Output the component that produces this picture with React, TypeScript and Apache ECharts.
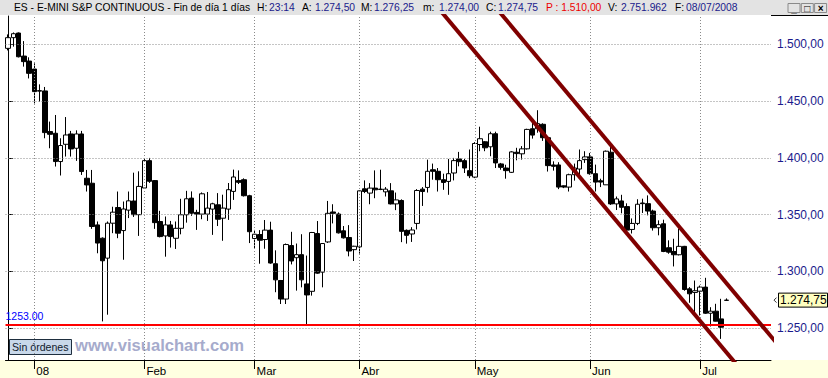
import React, { useEffect, useRef } from 'react';
import * as echarts from 'echarts';

// ---- DATA ----
const dates = [
  '2007-12-24','2007-12-26','2007-12-27','2007-12-28','2007-12-31',
  '2008-01-02','2008-01-03','2008-01-04','2008-01-07','2008-01-08','2008-01-09','2008-01-10','2008-01-11',
  '2008-01-14','2008-01-15','2008-01-16','2008-01-17','2008-01-18','2008-01-22','2008-01-23','2008-01-24',
  '2008-01-25','2008-01-28','2008-01-29','2008-01-30','2008-01-31',
  '2008-02-01','2008-02-04','2008-02-05','2008-02-06','2008-02-07','2008-02-08','2008-02-11','2008-02-12',
  '2008-02-13','2008-02-14','2008-02-15','2008-02-18','2008-02-19','2008-02-20','2008-02-21','2008-02-22',
  '2008-02-25','2008-02-26','2008-02-27','2008-02-28','2008-02-29',
  '2008-03-03','2008-03-04','2008-03-05','2008-03-06','2008-03-07','2008-03-10','2008-03-11','2008-03-12',
  '2008-03-13','2008-03-14','2008-03-17','2008-03-18','2008-03-19','2008-03-20','2008-03-24','2008-03-25',
  '2008-03-26','2008-03-27','2008-03-28','2008-03-31',
  '2008-04-01','2008-04-02','2008-04-03','2008-04-04','2008-04-07','2008-04-08','2008-04-09','2008-04-10',
  '2008-04-11','2008-04-14','2008-04-15','2008-04-16','2008-04-17','2008-04-18','2008-04-21','2008-04-22',
  '2008-04-23','2008-04-24','2008-04-25','2008-04-28','2008-04-29','2008-04-30',
  '2008-05-01','2008-05-02','2008-05-05','2008-05-06','2008-05-07','2008-05-08','2008-05-09','2008-05-12',
  '2008-05-13','2008-05-14','2008-05-15','2008-05-16','2008-05-19','2008-05-20','2008-05-21','2008-05-22',
  '2008-05-23','2008-05-26','2008-05-27','2008-05-28','2008-05-29','2008-05-30',
  '2008-06-02','2008-06-03','2008-06-04','2008-06-05','2008-06-06','2008-06-09','2008-06-10','2008-06-11',
  '2008-06-12','2008-06-13','2008-06-16','2008-06-17','2008-06-18','2008-06-19','2008-06-20','2008-06-23',
  '2008-06-24','2008-06-25','2008-06-26','2008-06-27','2008-06-30',
  '2008-07-01','2008-07-02','2008-07-03','2008-07-04','2008-07-07','2008-07-08',
];
const futureDates = ['2008-07-09','2008-07-10','2008-07-11','2008-07-14','2008-07-15','2008-07-16','2008-07-17','2008-07-18'];

const opens = [
  1496.5,1505.9,1510.0,1489.7,1485.3,
  1478.3,1458.8,1459.0,1423.2,1421.7,1396.8,1412.0,1421.1,1408.5,1421.1,1382.1,1377.7,1341.0,1329.3,1311.7,1342.5,1356.3,1336.0,1354.0,1362.0,1350.0,
  1373.5,1397.6,1380.0,1344.0,1331.3,1341.0,1329.2,1338.0,1349.9,1364.6,1352.0,1350.5,1350.5,1354.9,1358.7,1346.9,1354.9,1370.5,1380.0,1380.8,1366.7,
  1329.0,1332.5,1328.1,1336.4,1306.8,1292.0,1275.7,1322.8,1312.1,1314.8,1289.0,1282.5,1333.4,1299.4,1326.0,1352.4,1350.6,1335.8,1329.9,1319.2,
  1321.6,1372.8,1369.0,1373.4,1372.2,1370.1,1371.0,1359.5,1362.5,1336.2,1333.0,1342.3,1372.5,1374.0,1389.6,1388.2,1380.8,1379.3,1386.7,1399.1,1397.6,1388.8,
  1383.1,1411.8,1414.2,1409.8,1421.3,1394.7,1391.1,1387.3,1405.0,1403.6,1408.0,1425.7,1425.7,1429.6,1417.8,1393.8,1393.8,1375.4,1374.3,1385.2,1390.2,1398.5,
  1400.9,1386.1,1379.9,1376.3,1405.0,1359.5,1362.1,1357.1,1337.0,1342.3,1360.3,1359.7,1353.2,1338.5,1342.0,1320.9,1317.6,1314.7,1322.1,1284.7,1281.5,
  1282.6,1286.2,1263.2,1265.0,1258.2,1274.5,
];
const highs = [
  1508.8,1510.5,1510.5,1502.9,1488.6,
  1483.3,1464.8,1462.5,1432.0,1437.8,1417.3,1436.0,1423.8,1424.3,1423.8,1389.4,1389.4,1344.0,1330.0,1344.0,1357.0,1370.4,1361.6,1370.4,1387.0,1388.2,
  1399.0,1400.0,1380.5,1353.4,1348.4,1344.5,1344.0,1364.0,1371.0,1370.5,1354.3,1369.6,1370.0,1360.5,1369.0,1367.6,1377.9,1389.7,1389.0,1382.0,1367.5,
  1336.6,1336.4,1345.3,1343.8,1318.6,1292.5,1324.6,1334.9,1324.6,1332.8,1314.0,1334.8,1344.4,1325.0,1362.1,1359.2,1352.0,1340.0,1340.8,1322.6,
  1371.3,1380.2,1377.8,1389.0,1389.6,1374.3,1377.8,1369.5,1363.5,1337.0,1339.0,1372.5,1374.3,1398.5,1395.0,1391.1,1386.1,1399.1,1400.0,1405.3,1399.1,1407.4,
  1413.9,1427.5,1414.8,1423.1,1423.1,1395.6,1394.0,1405.9,1408.9,1410.4,1425.7,1431.0,1442.0,1430.5,1418.5,1397.0,1396.2,1375.8,1386.1,1395.0,1407.4,1405.9,
  1404.4,1394.1,1381.7,1406.5,1410.4,1366.0,1367.5,1360.0,1346.7,1363.6,1364.1,1367.0,1354.4,1345.0,1345.6,1327.4,1328.8,1337.6,1322.5,1286.2,1292.0,
  1287.6,1294.4,1268.5,1271.5,1275.9,1276.25,
];
const lows = [
  1494.7,1498.0,1488.5,1480.4,1470.0,
  1448.0,1449.6,1417.3,1408.5,1392.4,1384.5,1401.2,1401.2,1397.4,1385.0,1370.4,1337.5,1316.0,1256.0,1261.9,1333.7,1329.3,1310.3,1347.0,1348.0,1331.3,
  1373.0,1378.0,1337.5,1330.0,1313.0,1321.0,1319.8,1332.7,1343.0,1349.0,1336.6,1346.0,1344.5,1332.2,1340.0,1327.0,1345.4,1363.0,1377.0,1366.0,1325.0,
  1320.4,1306.8,1320.0,1306.8,1281.7,1271.3,1271.3,1306.2,1283.1,1286.0,1252.7,1278.7,1297.9,1286.0,1325.1,1342.3,1333.4,1329.0,1313.3,1309.2,
  1315.7,1369.0,1359.2,1364.5,1371.6,1366.0,1359.0,1354.0,1325.8,1324.5,1326.0,1337.0,1357.7,1369.5,1380.8,1370.4,1371.9,1367.5,1380.2,1392.6,1386.7,1382.2,
  1382.2,1405.9,1405.9,1401.5,1391.1,1389.6,1381.7,1386.7,1397.9,1398.5,1407.4,1417.0,1422.2,1415.0,1388.0,1388.8,1372.5,1373.4,1370.4,1380.0,1385.2,1395.6,
  1385.2,1370.4,1374.3,1376.3,1358.6,1354.1,1351.2,1334.9,1333.4,1340.8,1351.5,1349.4,1336.0,1331.8,1317.0,1315.6,1304.4,1314.1,1283.0,1272.4,1261.2,
  1261.2,1262.6,1251.5,1256.0,1240.6,1274.0,
];
const closes = [
  1505.9,1509.4,1489.1,1484.8,1474.5,
  1458.4,1459.3,1422.3,1420.8,1396.8,1410.9,1420.2,1407.9,1421.1,1388.0,1376.2,1339.6,1325.0,1309.4,1342.5,1352.2,1333.7,1355.0,1362.2,1350.0,1374.9,
  1397.6,1379.4,1343.0,1330.7,1341.0,1330.7,1338.0,1349.9,1364.0,1351.3,1350.5,1368.4,1355.8,1359.6,1346.0,1355.8,1372.0,1383.2,1378.5,1366.7,1335.0,
  1332.8,1327.5,1336.4,1307.4,1292.6,1275.7,1323.7,1309.2,1314.8,1292.6,1279.3,1334.3,1298.5,1324.6,1351.2,1351.2,1334.0,1329.6,1318.0,1322.2,
  1371.0,1370.4,1373.4,1371.9,1372.5,1372.5,1359.5,1363.0,1335.3,1331.8,1336.5,1371.3,1370.4,1388.2,1388.2,1380.8,1378.4,1386.1,1397.6,1396.7,1391.1,1384.3,
  1412.7,1416.9,1408.9,1421.3,1395.6,1391.7,1388.8,1405.3,1403.8,1408.0,1425.1,1420.1,1430.2,1417.8,1393.2,1392.6,1374.3,1374.3,1385.2,1391.1,1397.6,1400.9,
  1386.1,1378.7,1378.7,1405.9,1359.5,1363.9,1356.5,1336.4,1342.3,1359.2,1359.7,1353.2,1338.5,1341.2,1317.6,1317.0,1314.7,1322.1,1284.1,1280.3,1283.0,
  1286.2,1263.2,1265.0,1256.2,1250.9,1274.75,
];

const yTicks = [1250, 1300, 1350, 1400, 1450, 1500];
const supportLevel = 1253;
// trend channel endpoints: [bar index, price]
const channelLower = [[80, 1543.3], [142, 1201.1]];
const channelUpper = [[90, 1549.1], [147, 1234.5]];
const monthNames = ['08', 'Feb', 'Mar', 'Abr', 'May', 'Jun', 'Jul', 'Ago', 'Sep', 'Oct', 'Nov', 'Dic'];

const headerLabels = [
  { text: 'ES - E-MINI S&P CONTINUOUS - Fin de día 1 días', x: 14, color: '#000000' },
  { text: 'H:', x: 257, color: '#000000' }, { text: '23:14', x: 269, color: '#1a1a8c' },
  { text: 'A:', x: 302, color: '#000000' }, { text: '1.274,50', x: 315, color: '#1a1a8c' },
  { text: 'M:', x: 361, color: '#000000' }, { text: '1.276,25', x: 374, color: '#1a1a8c' },
  { text: 'm:', x: 423, color: '#000000' }, { text: '1.274,00', x: 439, color: '#1a1a8c' },
  { text: 'C:', x: 486, color: '#000000' }, { text: '1.274,75', x: 498, color: '#1a1a8c' },
  { text: 'P : 1.510,00', x: 546, color: '#ee0000' },
  { text: 'V:', x: 608, color: '#000000' }, { text: '2.751.962', x: 621, color: '#1a1a8c' },
  { text: 'F:', x: 675, color: '#000000' }, { text: '08/07/2008', x: 686, color: '#1a1a8c' },
];

const FONT = '"Liberation Sans", Arial, sans-serif';

function fmtEs(v: number): string {
  const [i, d] = v.toFixed(2).split('.');
  return i.replace(/\B(?=(\d{3})+(?!\d))/g, '.') + ',' + d;
}

export default function App() {
  const ref = useRef<HTMLDivElement>(null);

  useEffect(() => {
    if (!ref.current) return;
    const chart = echarts.init(ref.current, undefined, { renderer: 'svg' });
    const allDates = [...dates, ...futureDates];
    const monthStarts: number[] = [];
    allDates.forEach((d, i) => {
      if (i > 0 && d.slice(5, 7) !== allDates[i - 1].slice(5, 7)) monthStarts.push(i);
    });
    const isMonthStart = (idx: number) => monthStarts.indexOf(idx) >= 0;
    const candleData = opens.map((o, i) => [o, closes[i], lows[i], highs[i]]);
    const dotted = { color: '#8a8a8a', width: 1, type: [1, 2] as any };

    chart.setOption({
      animation: false,
      backgroundColor: 'transparent',
      textStyle: { fontFamily: FONT },
      grid: { left: 5.5, right: 57, top: 16, bottom: 18 },
      xAxis: [
        {
          type: 'category',
          data: allDates,
          boundaryGap: true,
          axisLine: { show: true, lineStyle: { color: '#000', width: 1 } },
          axisTick: {
            show: true, interval: (i: number) => isMonthStart(i), alignWithLabel: true,
            length: 9, lineStyle: { color: '#000', width: 1 },
          },
          axisLabel: {
            interval: (i: number) => isMonthStart(i),
            formatter: (v: string) => monthNames[parseInt(v.slice(5, 7), 10) - 1],
            align: 'left', padding: [0, 0, 0, 2], margin: 5,
            color: '#000', fontSize: 11.5, fontFamily: FONT,
          },
          splitLine: { show: false },
        },
        { type: 'value', min: -0.5, max: allDates.length - 0.5, show: false },
      ],
      yAxis: {
        type: 'value', position: 'right', min: 1222, max: 1525, scale: true,
        axisLine: { show: true, lineStyle: { color: '#000', width: 1 } },
        axisTick: { show: true, customValues: yTicks, length: 5, lineStyle: { color: '#000' } },
        axisLabel: {
          customValues: yTicks, formatter: (v: number) => fmtEs(v),
          color: '#1a1a8c', fontSize: 12, margin: 6, fontFamily: FONT,
        },
        splitLine: { show: false },
      },
      series: [
        {
          name: 'grid', type: 'line', data: allDates.map(() => '-'), silent: true, z: 1,
          markLine: {
            silent: true, symbol: ['none', 'none'], label: { show: false }, lineStyle: dotted,
            data: [
              ...yTicks.map((v) => ({ yAxis: v })),
              ...monthStarts.map((i) => ({ xAxis: allDates[i] })),
            ],
          },
        },
        {
          name: 'ES', type: 'candlestick', data: candleData, barWidth: 5, z: 2,
          itemStyle: { color: '#ffffff', color0: '#000000', borderColor: '#000000', borderColor0: '#000000', borderWidth: 1 },
          markLine: {
            silent: true, symbol: ['none', 'none'],
            data: [{
              yAxis: supportLevel,
              lineStyle: { color: '#ff0000', width: 2, type: 'solid' },
              label: {
                show: true, formatter: supportLevel.toFixed(2), position: 'insideStartTop',
                color: '#0000ff', fontSize: 10.5, fontFamily: FONT, distance: [0, 3],
              },
            }],
          },
        },
        {
          name: 'canal inferior', type: 'line', xAxisIndex: 1, data: channelLower, symbol: 'none', clip: true,
          lineStyle: { color: '#800000', width: 4 }, silent: true, z: 5,
        },
        {
          name: 'canal superior', type: 'line', xAxisIndex: 1, data: channelUpper, symbol: 'none', clip: true,
          lineStyle: { color: '#800000', width: 4 }, silent: true, z: 5,
        },
      ],
    });

    const lastClose = closes[closes.length - 1];
    const py = chart.convertToPixel({ yAxisIndex: 0 }, lastClose) as number;

    const elements: any[] = [];
    headerLabels.forEach((h, k) => {
      elements.push({
        type: 'text', id: 'h' + k, x: h.x, y: 7.5,
        style: { text: h.text, fill: h.color, font: `10.3px ${FONT}`, textVerticalAlign: 'middle', verticalAlign: 'middle' },
      });
    });
    // window buttons
    ['_', '□', '×'].forEach((g, k) => {
      const bx = 788 + k * 13.3;
      elements.push({ type: 'rect', id: 'btn' + k, shape: { x: bx, y: 3.5, width: 12, height: 9 }, style: { fill: '#e3e3e3', stroke: '#8a8a8a', lineWidth: 1 } });
      elements.push({ type: 'text', id: 'btnt' + k, x: bx + 6, y: 8, style: { text: g, fill: '#000', font: `bold 10px ${FONT}`, align: 'center', verticalAlign: 'middle' } });
    });
    // right axis top border
    elements.push({ type: 'line', id: 'axTop', shape: { x1: 771, y1: 15.5, x2: 828, y2: 15.5 }, style: { stroke: '#000', lineWidth: 1 } });
    // last price tag
    elements.push({ type: 'polyline', id: 'arrow', shape: { points: [[776.5, py - 2.5], [774, py], [776.5, py + 2.5]] }, style: { stroke: '#333', fill: 'none', lineWidth: 1 } });
    elements.push({ type: 'rect', id: 'pbox', shape: { x: 778.5, y: py - 7, width: 49, height: 14 }, style: { fill: '#ffffc0', stroke: '#000', lineWidth: 1 } });
    elements.push({ type: 'text', id: 'ptext', x: 780, y: py, style: { text: fmtEs(lastClose), fill: '#000', font: `12px ${FONT}`, verticalAlign: 'middle' } });
    // orders box + watermark
    elements.push({ type: 'rect', id: 'sin', shape: { x: 9.5, y: 339.5, width: 62, height: 15 }, style: { fill: '#c8d8ea', stroke: '#1e2e3e', lineWidth: 1 } });
    elements.push({ type: 'text', id: 'sint', x: 12, y: 347, style: { text: 'Sin órdenes', fill: '#10202c', font: `10.6px ${FONT}`, verticalAlign: 'middle' } });
    elements.push({ type: 'text', id: 'wm', x: 75, y: 345.5, style: { text: 'www.visualchart.com', fill: '#a6abcc', font: `bold 16.6px ${FONT}`, verticalAlign: 'middle' } });

    chart.setOption({ graphic: { elements } });

    return () => chart.dispose();
  }, []);

  return (
    <div
      style={{
        position: 'fixed', left: 0, top: 0, width: 828, height: 378,
        background: 'linear-gradient(to bottom, #e3e3e3 0px, #e3e3e3 15px, #ffffff 15px, #ffffff 360px, #ffffe1 360px, #ffffe1 378px)',
      }}
    >
      <div ref={ref} style={{ width: 828, height: 378 }} />
    </div>
  );
}
